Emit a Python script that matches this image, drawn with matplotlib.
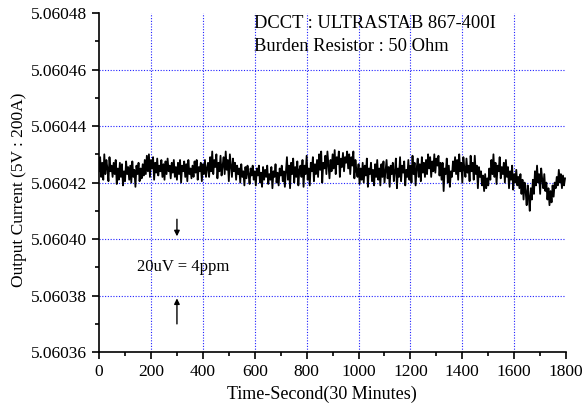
import numpy as np
import matplotlib
matplotlib.use("Agg")
import matplotlib.pyplot as plt
from matplotlib.ticker import MultipleLocator, FormatStrFormatter

plt.rcParams['font.family'] = ['Liberation Serif', 'DejaVu Serif']

# output readings, offset from 5.06042 in units of 1e-6, one every 4 s
base = 5.06042
step_s = 4
offsets = [
    4, 9, 2, 7, 1, 10, 3, 8, 5, 0.5, 9, 4, 6, 2, 7,
    3, 8, -0.5, 5, 1, 7, 2, 6.5, -1, 4, 0.5, 7.5, 3, 5.5, 1,
    6, 0, 7.5, 2, 4.5, -1.5, 6, 3, 7, 0.5, 5, 1.5, 6.5, 2.5, 8,
    3, 9.5, 4, 10, 2, 8, 5, 9, 1, 7, 3.5, 8.5, 2.5, 6, 4,
    8, 2, 6.5, 1, 7.5, 3, 8.5, 4, 6, 1.5, 7, 3.5, 8, 2, 5.5,
    1, 7, 3, 8, 0, 6, 4, 7.5, 2, 6.5, 0.5, 8, 3, 5, 1.5,
    6, 2, 7.5, 3.5, 8, 1, 5.5, 4, 7, 0.5, 6.5, 3, 8, 2, 5,
    7, 2, 9, 4, 11, 3, 8, 5.5, 10, 1.5, 7, 4, 9.5, 2.5, 6,
    9, 3, 11, 4.5, 8, 0.5, 10, 6, 2, 8.5, 4, 7, 1, 6, 3,
    5, 0, 6.5, 2, 4, -1, 5.5, 1.5, 6, 3, -0.5, 5, 2.5, 6, 1,
    4, -1, 5, 2.5, 6, 0, 3.5, -1.5, 5.5, 1, 4.5, 2, 6, -0.5, 3,
    1, 5.5, -2, 4, 2, 6.5, 0, 3.5, -1, 5, 2.5, 6, 0.5, 4, -1.5,
    4, 9, 1, 6, -2, 7, 3, 8.5, 0, 5.5, 2, 7.5, -1, 4.5, 6,
    2, 8, -1.5, 6, 3, 9.5, 1, 5, -1, 7, 4, 9, 0.5, 6.5, 3,
    8, 2, 10, 4.5, 11, 0, 7, 5, 9.5, 3, 11, 6, 1.5, 8, 4,
    10, 5, 11.5, 3, 9, 6.5, 11, 2, 8.5, 5.5, 10.5, 4, 9, 7, 11,
    5, 10, 3, 9, 6, 11, 1.5, 8, 4, 2, 6.5, -0.5, 5, 1, 7,
    0, 6, 2.5, 8.5, -1.5, 5, 3, 7, 0.5, 4.5, -1, 6.5, 2, 8, 1,
    5, -1, 6.5, 2, 7.5, 0, 4, 8, 1.5, 5.5, -1.5, 6, 3, 7, 0.5,
    4, 8.5, -2, 5, 2, 9, 0.5, 6, 3.5, 7.5, -1, 4.5, 2, 8, 1,
    6, 0, 9.5, 3, 7, -1, 5, 8.5, 2, 6.5, 0.5, 9, 3.5, 7, 2,
    8, 3, 10, 5, 9, 2, 7.5, 4, 10, 3.5, 8.5, 6, 9.5, 2.5, 7,
    1, 7, -3, 5, 3, 8.5, 0, 6, -1.5, 4, 2, 7.5, 4, 9, 3,
    8, 1, 10, 4, 7, 0, 9, 5, 2, 8.5, 3.5, 6, 0.5, 9.5, 4,
    7, 1, 9.5, 3, 6, -2, 5.5, 2, 4, -1, 2.5, -3, 3, -2, 1.5,
    -1, 5, 1, 8, 3, 10, 2, 7, -0.5, 6, 4, 9, 1.5, 5.5, 3,
    7, 0, 8, 2, 5.5, -2, 4, 1, 6, -2.5, 3, 0, 4.5, -1, 2,
    -2, 3, -4, 1, -6, 0, -3, -8, -1, -5, -10, -2, -6, 1, -4,
    4, -1, 6, 0, 3, -4, 5, 1, -2, 3, -3, 0, -6, -2, -8,
    -3, -7, -1, -5, 0, -2, 2, -1, 4.5, 0, 3, -2, 2.5, -1, 1.5,
]

xticks = [0, 200, 400, 600, 800, 1000, 1200, 1400, 1600, 1800]
yticks = [5.06036, 5.06038, 5.06040, 5.06042, 5.06044, 5.06046, 5.06048]

t = np.arange(len(offsets)) * step_s
current = base + np.array(offsets) * 1e-6

fig = plt.figure(figsize=(5.83, 4.08), dpi=100)
ax = fig.add_axes([0.170, 0.137, 0.801, 0.831])

# dotted blue grid, only inside the frame (none on the top/right edges)
grid_kw = dict(color='#2020ff', linestyle=(0, (1, 1.5)), lw=0.8, zorder=0)
for xv in xticks[1:-1]:
    ax.axvline(xv, **grid_kw)
for yv in yticks[1:-1]:
    ax.axhline(yv, **grid_kw)

ax.plot(t, current, color='black', lw=1.3)

ax.set_xlim(0, 1800)
ax.set_ylim(5.06036, 5.06048)
ax.set_xticks(xticks)
ax.set_yticks(yticks)
ax.xaxis.set_minor_locator(MultipleLocator(100))
ax.yaxis.set_minor_locator(MultipleLocator(0.00001))
ax.yaxis.set_major_formatter(FormatStrFormatter('%.5f'))

ax.spines['top'].set_visible(False)
ax.spines['right'].set_visible(False)
for s in ('left', 'bottom'):
    ax.spines[s].set_linewidth(1.2)
ax.tick_params(which='major', direction='out', length=5, width=1.2, labelsize=12.5)
ax.tick_params(which='minor', direction='out', length=3, width=1.2)

ax.set_xlabel('Time-Second(30 Minutes)', fontsize=13)
ax.set_ylabel('Output Current (5V : 200A)', fontsize=12.5)
ax.xaxis.set_label_coords(0.478, -0.098)
ax.yaxis.set_label_coords(-0.155, 0.48)

ax.text(0.332, 0.970, 'DCCT : ULTRASTAB 867-400I', transform=ax.transAxes,
        fontsize=13.3, va='center', ha='left')
ax.text(0.332, 0.900, 'Burden Resistor : 50 Ohm', transform=ax.transAxes,
        fontsize=13.3, va='center', ha='left')

# 20uV scale marker
ax.annotate('', xy=(300, 5.06040), xytext=(300, 5.060408),
            arrowprops=dict(arrowstyle='-|>', color='black', lw=1, mutation_scale=8))
ax.annotate('', xy=(300, 5.06038), xytext=(300, 5.060369),
            arrowprops=dict(arrowstyle='-|>', color='black', lw=1, mutation_scale=8))
ax.text(146, 5.06039, '20uV = 4ppm', fontsize=12, va='center', ha='left')

fig.savefig('out.png', dpi=100)
